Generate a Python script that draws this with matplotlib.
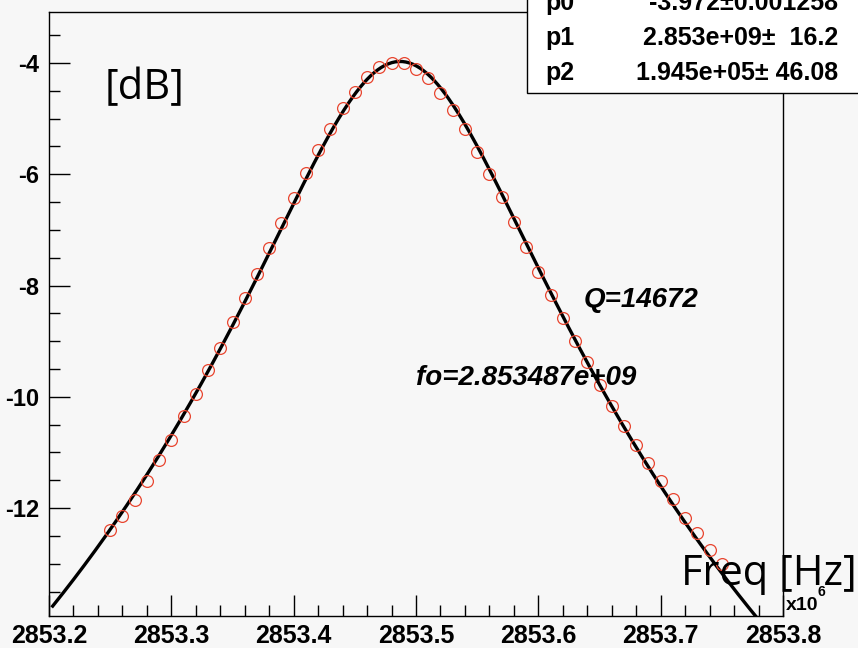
import numpy as np
import matplotlib
matplotlib.use("Agg")
import matplotlib.pyplot as plt
from matplotlib.patches import Rectangle
from matplotlib.ticker import MultipleLocator, FormatStrFormatter

# measured points (frequency in MHz, magnitude in dB)
freq = [2853.25, 2853.26, 2853.27, 2853.28, 2853.29, 2853.30, 2853.31, 2853.32,
        2853.33, 2853.34, 2853.35, 2853.36, 2853.37, 2853.38, 2853.39, 2853.40,
        2853.41, 2853.42, 2853.43, 2853.44, 2853.45, 2853.46, 2853.47, 2853.48,
        2853.49, 2853.50, 2853.51, 2853.52, 2853.53, 2853.54, 2853.55, 2853.56,
        2853.57, 2853.58, 2853.59, 2853.60, 2853.61, 2853.62, 2853.63, 2853.64,
        2853.65, 2853.66, 2853.67, 2853.68, 2853.69, 2853.70, 2853.71, 2853.72,
        2853.73, 2853.74, 2853.75]
gain_db = [-12.40, -12.15, -11.86, -11.52, -11.14, -10.78, -10.35, -9.95,
           -9.52, -9.13, -8.66, -8.23, -7.80, -7.33, -6.88, -6.43,
           -5.98, -5.56, -5.19, -4.81, -4.52, -4.25, -4.07, -4.00,
           -4.00, -4.10, -4.27, -4.54, -4.85, -5.19, -5.60, -6.00,
           -6.41, -6.86, -7.31, -7.76, -8.17, -8.59, -9.00, -9.38,
           -9.79, -10.17, -10.52, -10.86, -11.19, -11.52, -11.84, -12.17,
           -12.45, -12.76, -13.01]

# fit parameters from the stats box
p0 = -3.972
p1 = 2.853487e9
p2 = 1.945e5
fit_range = (2853.203, 2853.779)

stat_names = ["p0", "p1", "p2"]
stat_values = ["-3.972\u00b10.001258", "2.853e+09\u00b1  16.2", "1.945e+05\u00b1 46.08"]

W, H = 858, 648
bg = "#f7f7f7"
root_font = ["Liberation Sans", "DejaVu Sans"]


def fx(px):
    return px / W


def fy(py):
    return 1 - py / H


fig = plt.figure(figsize=(W / 100, H / 100), dpi=100, facecolor=bg)
ax = fig.add_axes([fx(49), fy(616), fx(783) - fx(49), fy(12) - fy(616)])
ax.set_facecolor(bg)

# fit curve from the fitted parameters
fit_f = np.linspace(fit_range[0], fit_range[1], 400)
fit_y = p0 - 10 * np.log10(1 + (2 * (fit_f * 1e6 - p1) / p2) ** 2)
ax.plot(fit_f, fit_y, color="black", lw=2.4, zorder=2)
ax.plot(freq, gain_db, ls="none", marker="o", ms=8.5, mfc="none",
        mec="#e8452f", mew=0.9, zorder=3)

ax.set_xlim(2853.2, 2853.8)
ax.set_ylim(-13.94, -3.083)
ax.xaxis.set_major_locator(MultipleLocator(0.1))
ax.xaxis.set_minor_locator(MultipleLocator(0.02))
ax.yaxis.set_major_locator(MultipleLocator(2))
ax.yaxis.set_minor_locator(MultipleLocator(0.5))
ax.xaxis.set_major_formatter(FormatStrFormatter("%.1f"))
ax.yaxis.set_major_formatter(FormatStrFormatter("%d"))
ax.tick_params(which="both", direction="in", top=False, right=False,
               color="black", width=1)
ax.tick_params(which="major", length=15)
ax.tick_params(which="minor", length=8)
ax.tick_params(axis="x", pad=6)
ax.tick_params(axis="y", pad=7)
for lab in ax.get_xticklabels():
    lab.set_family(root_font)
    lab.set_fontweight("bold")
    lab.set_fontsize(18)
for lab in ax.get_yticklabels():
    lab.set_family(root_font)
    lab.set_fontweight("bold")
    lab.set_fontsize(17)
for sp in ax.spines.values():
    sp.set_linewidth(1)

# annotations
ax.text(2853.637, -8.26, "Q=14672", fontsize=20, fontweight="bold",
        fontstyle="italic", family="Liberation Sans", va="center")
ax.text(2853.50, -9.67, "fo=2.853487e+09", fontsize=20, fontweight="bold",
        fontstyle="italic", family="Liberation Sans", va="center")

fig.text(fx(105), fy(88), "[dB]", fontsize=30, family="Open Sans", va="center")
fig.text(fx(857), fy(574), "Freq [Hz]", fontsize=30, family="Open Sans",
         va="center", ha="right")
fig.text(fx(786), fy(606), "x10", fontsize=14, fontweight="bold",
         family=root_font, va="center")
fig.text(fx(818), fy(592), "6", fontsize=10, fontweight="bold",
         family=root_font, va="center")

# stats box
fig.patches.append(Rectangle((fx(527), fy(93)), fx(900) - fx(527), fy(-20) - fy(93),
                             transform=fig.transFigure, facecolor="white",
                             edgecolor="black", lw=1, zorder=5))
for i, (name, val) in enumerate(zip(stat_names, stat_values)):
    yy = fy(3 + 35 * i)
    fig.text(fx(545), yy, name, fontsize=18, fontweight="bold",
             family=root_font, va="center", zorder=6)
    fig.text(fx(838), yy, val, fontsize=18, fontweight="bold",
             family=root_font, va="center", ha="right", zorder=6)

fig.savefig("out.png", dpi=100, facecolor=bg)
